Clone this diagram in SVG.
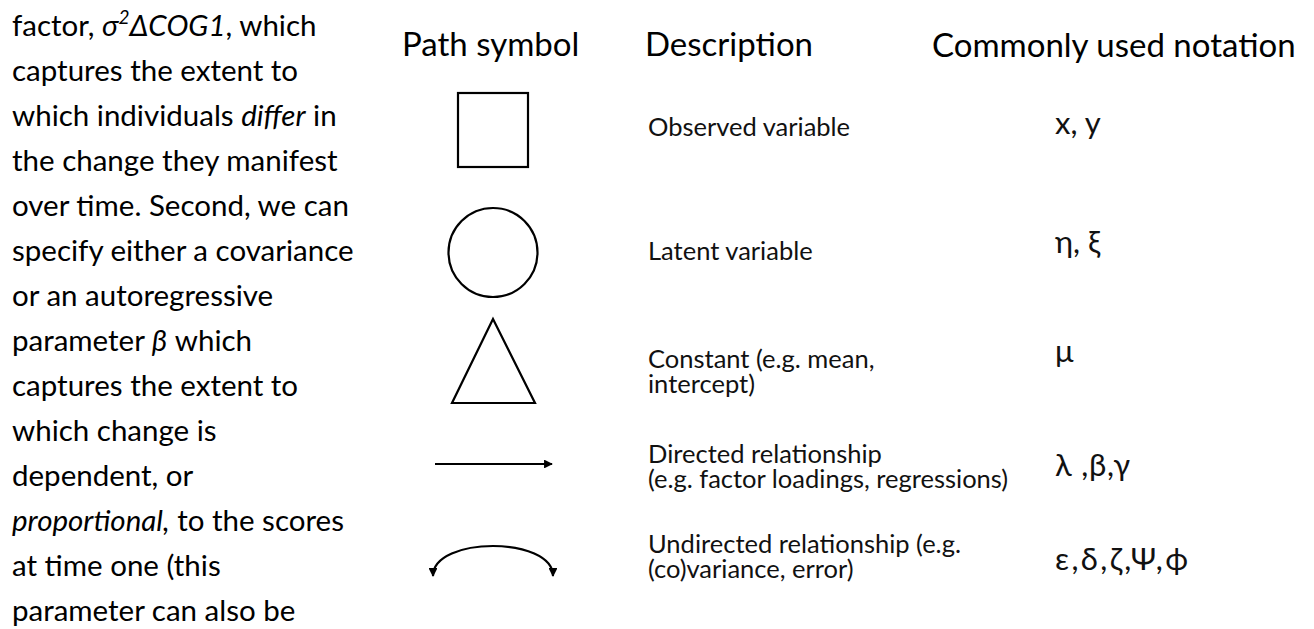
<svg xmlns="http://www.w3.org/2000/svg" width="1314" height="629" viewBox="0 0 1314 629">
  <style>
    .body { font-family: Lato, "Open Sans", "Liberation Sans", sans-serif; font-size: 29.5px; fill: #000; }
    .head { font-family: Lato, "Open Sans", "Liberation Sans", sans-serif; font-size: 33px; fill: #000; }
    .desc { font-family: Lato, "Open Sans", "Liberation Sans", sans-serif; font-size: 25.5px; fill: #111; }
    .note { font-family: Lato, "Open Sans", "Liberation Sans", sans-serif; font-size: 31px; fill: #111; }
    .it { font-style: italic; }
    .shape { fill: none; stroke: #000; stroke-width: 2.2; }
  </style>
  <defs>
    <marker id="arrow" viewBox="0 0 10 10" refX="9" refY="5" markerWidth="4" markerHeight="4" orient="auto-start-reverse">
      <path d="M0,0 L10,5 L0,10 Z" fill="#000"/>
    </marker>
  </defs>
  <rect width="1314" height="629" fill="#fff"/>

  <!-- running paragraph on the left -->
  <g id="paragraph" class="body">
    <text x="12" y="36">factor, <tspan class="it">σ</tspan><tspan class="it" font-size="19" dy="-12">2</tspan><tspan class="it" dy="12">ΔCOG1</tspan>, which</text>
    <text x="12" y="81">captures the extent to</text>
    <text x="12" y="126">which individuals <tspan class="it">differ</tspan> in</text>
    <text x="12" y="171">the change they manifest</text>
    <text x="12" y="216">over time. Second, we can</text>
    <text x="12" y="261">specify either a covariance</text>
    <text x="12" y="306">or an autoregressive</text>
    <text x="12" y="351">parameter <tspan class="it">β</tspan> which</text>
    <text x="12" y="396">captures the extent to</text>
    <text x="12" y="441">which change is</text>
    <text x="12" y="486">dependent, or</text>
    <text x="12" y="531"><tspan class="it">proportional,</tspan> to the scores</text>
    <text x="12" y="576">at time one (this</text>
    <text x="12" y="621">parameter can also be</text>
  </g>

  <!-- column headings -->
  <g id="headings" class="head">
    <text x="402" y="56">Path symbol</text>
    <text x="645" y="56">Description</text>
    <text x="932" y="57">Commonly used notation</text>
  </g>

  <!-- observed variable -->
  <g id="observed">
    <rect class="shape" x="458" y="93" width="70" height="74"/>
    <text class="desc" x="648" y="136">Observed variable</text>
    <text class="note" x="1055" y="134">x, y</text>
  </g>

  <!-- latent variable -->
  <g id="latent">
    <circle class="shape" cx="493" cy="252.5" r="44.5"/>
    <text class="desc" x="648" y="260">Latent variable</text>
    <text class="note" x="1055" y="253">η, ξ</text>
  </g>

  <!-- constant -->
  <g id="constant">
    <polygon class="shape" points="493,319 535,403 452,403"/>
    <text class="desc" x="648" y="368">Constant (e.g. mean,</text>
    <text class="desc" x="648" y="393">intercept)</text>
    <text class="note" x="1055" y="362">μ</text>
  </g>

  <!-- directed and undirected relationships -->
  <g id="connectors">
    <line class="shape" x1="435" y1="464" x2="552" y2="464" marker-end="url(#arrow)"/>
    <path class="shape" d="M433,576 C433,536 553,536 553,576" marker-start="url(#arrow)" marker-end="url(#arrow)"/>
  </g>

  <g id="directed">
    <text class="desc" x="648" y="463">Directed relationship</text>
    <text class="desc" x="648" y="488">(e.g. factor loadings, regressions)</text>
    <text class="note" x="1055" y="476" textLength="75" lengthAdjust="spacing">λ ,β,γ</text>
  </g>

  <g id="undirected">
    <text class="desc" x="648" y="553">Undirected relationship (e.g.</text>
    <text class="desc" x="648" y="578">(co)variance, error)</text>
    <text class="note" x="1055" y="570" textLength="133" lengthAdjust="spacing">ε,δ,ζ,Ψ,ϕ</text>
  </g>
</svg>
